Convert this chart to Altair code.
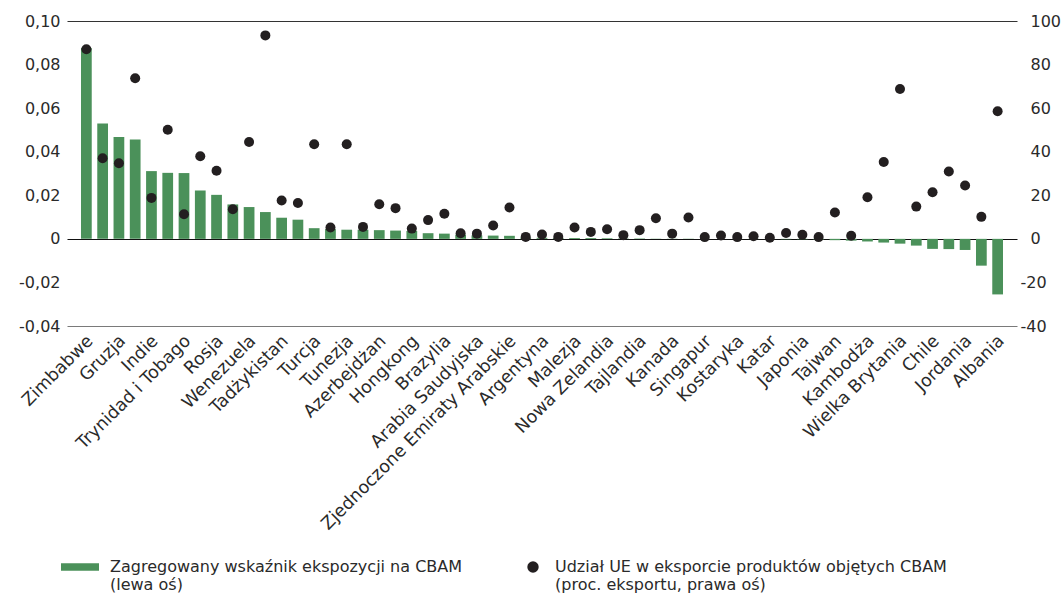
import json
import altair as alt
import pandas as pd

# Labelled countries (every second bar carries a label)
labels = ["Zimbabwe", "Gruzja", "Indie", "Trynidad i Tobago", "Rosja", "Wenezuela",
          "Tadżykistan", "Turcja", "Tunezja", "Azerbejdżan", "Hongkong", "Brazylia",
          "Arabia Saudyjska", "Zjednoczone Emiraty Arabskie", "Argentyna", "Malezja",
          "Nowa Zelandia", "Tajlandia", "Kanada", "Singapur", "Kostaryka", "Katar",
          "Japonia", "Tajwan", "Kambodża", "Wielka Brytania", "Chile", "Jordania", "Albania"]

# Aggregated CBAM exposure indicator (left axis), 57 countries
exposure = [0.0876, 0.0530, 0.0468, 0.0456, 0.0311, 0.0303, 0.0302, 0.0222, 0.0202, 0.0158,
            0.0146, 0.0123, 0.0097, 0.0088, 0.0049, 0.0045, 0.0042, 0.0042, 0.0040, 0.0038,
            0.0036, 0.0026, 0.0024, 0.0019, 0.0016, 0.0015, 0.0014, 0.0006, 0.0005, 0.0004,
            0.0004, 0.0004, 0.0003, 0.0002, 0.0002, 0.0001, 0.0001, 0.0001, 0.0000, 0.0000,
            -0.0001, -0.0001, -0.0001, -0.0002, -0.0002, -0.0003, -0.0006, -0.0008, -0.0012, -0.0017,
            -0.0022, -0.0031, -0.0046, -0.0047, -0.0051, -0.0123, -0.0255]

# EU share in exports of CBAM products (% of exports, right axis)
eu_share = [87.0, 37.0, 34.7, 73.7, 18.8, 50.1, 11.3, 37.9, 31.3, 13.6,
            44.5, 93.4, 17.6, 16.5, 43.4, 5.2, 43.4, 5.5, 15.9, 14.1,
            4.7, 8.6, 11.5, 2.6, 2.4, 6.1, 14.4, 0.9, 2.0, 0.9,
            5.2, 3.2, 4.4, 1.7, 4.0, 9.5, 2.4, 9.8, 0.8, 1.5,
            0.8, 1.2, 0.5, 2.7, 1.9, 0.8, 12.1, 1.4, 19.1, 35.3,
            68.8, 14.8, 21.4, 30.9, 24.5, 10.1, 58.6]

left_ticks = [0.10, 0.08, 0.06, 0.04, 0.02, 0.0, -0.02, -0.04]
right_ticks = [100, 80, 60, 40, 20, 0, -20, -40]

series_bar = "Zagregowany wskaźnik ekspozycji na CBAM"
series_bar_2 = "(lewa oś)"
series_dot = "Udział UE w eksporcie produktów objętych CBAM"
series_dot_2 = "(proc. eksportu, prawa oś)"

df = pd.DataFrame({
    "i": list(range(len(exposure))),
    "exposure": exposure,
    "eu_share": eu_share,
    "s1": series_bar,
    "s2": series_dot,
})

FONT = "DejaVu Sans"
TXT = "#2a2a2a"
GREEN = "#4b915a"
DOT = "#231f20"

label_expr = ("datum.value % 2 == 0 ? " + json.dumps(labels, ensure_ascii=False)
              + "[datum.value / 2] : ''")

x_axis = alt.Axis(title=None, labelExpr=label_expr, labelAngle=-45, labelAlign="right",
                  labelBaseline="middle", labelPadding=12, labelOffset=4, ticks=False,
                  tickSize=0, domain=False, grid=False, labelFontSize=17.5, labelColor=TXT,
                  labelOverlap=False, labelLimit=400)
x_scale = alt.Scale(paddingInner=0.34, paddingOuter=0.86)

bars = alt.Chart(df).mark_bar(color=GREEN).encode(
    x=alt.X("i:O", scale=x_scale, axis=x_axis),
    y=alt.Y(
        "exposure:Q",
        scale=alt.Scale(domain=[-0.04, 0.10], nice=False, zero=False),
        axis=alt.Axis(
            title=None, values=left_ticks, domain=False, ticks=False, tickSize=0,
            labelPadding=7, labelFontSize=16, labelColor=TXT,
            labelExpr="datum.value == 0 ? '0' : (datum.value < 0 ? '-' : '') + replace(format(abs(datum.value), '.2f'), '.', ',')",
            grid=True,
            gridOpacity={"condition": {"test": "datum.value == 0.1 || datum.value == 0 || datum.value == -0.04", "value": 1}, "value": 0},
            gridColor={"condition": [{"test": "datum.value == 0", "value": "#111111"},
                                     {"test": "datum.value < 0", "value": "#7a7a7a"}], "value": "#333333"},
            gridWidth=1.2,
        ),
    ),
    color=alt.Color(
        "s1:N",
        scale=alt.Scale(range=[GREEN]),
        legend=alt.Legend(
            title=None, orient="none", legendX=-6, legendY=527, padding=0,
            symbolType="M-1,-0.2H1V0.2H-1Z", symbolSize=1444, symbolStrokeWidth=0,
            labelExpr="[datum.label, '" + series_bar_2 + "']",
            labelFontSize=16, labelColor=TXT, labelOffset=11, labelLimit=500,
        ),
    ),
)

points = alt.Chart(df).mark_point(filled=True, color=DOT, size=100, opacity=1).encode(
    x=alt.X("i:O", scale=x_scale, axis=x_axis),
    y=alt.Y(
        "eu_share:Q",
        scale=alt.Scale(domain=[-40, 100], nice=False, zero=False),
        axis=alt.Axis(
            title=None, orient="right", values=right_ticks, domain=False, ticks=False,
            tickSize=0, grid=False, labelFontSize=16, labelColor=TXT,
            labelExpr="(datum.value < 0 ? '-' : '') + abs(datum.value)",
            labelPadding={"condition": {"test": "datum.value < 0", "value": 3}, "value": 13},
        ),
    ),
    shape=alt.Shape(
        "s2:N",
        scale=alt.Scale(range=["circle"]),
        legend=alt.Legend(
            title=None, orient="none", legendX=458, legendY=538, padding=0,
            symbolSize=130, symbolFillColor=DOT, symbolStrokeWidth=0,
            labelExpr="[datum.label, '" + series_dot_2 + "']",
            labelFontSize=16, labelColor=TXT, labelOffset=14, labelLimit=500,
        ),
    ),
)

chart = alt.layer(bars, points).resolve_scale(y="independent", color="independent", shape="independent").properties(
    width=950,
    height=305,
    autosize=alt.AutoSizeParams(type="none"),
    padding={"left": 67, "top": 21, "right": 45, "bottom": 268},
).configure(font=FONT).configure_view(stroke=None)

chart.save("out.html", embed_options={"renderer": "svg", "actions": False})
